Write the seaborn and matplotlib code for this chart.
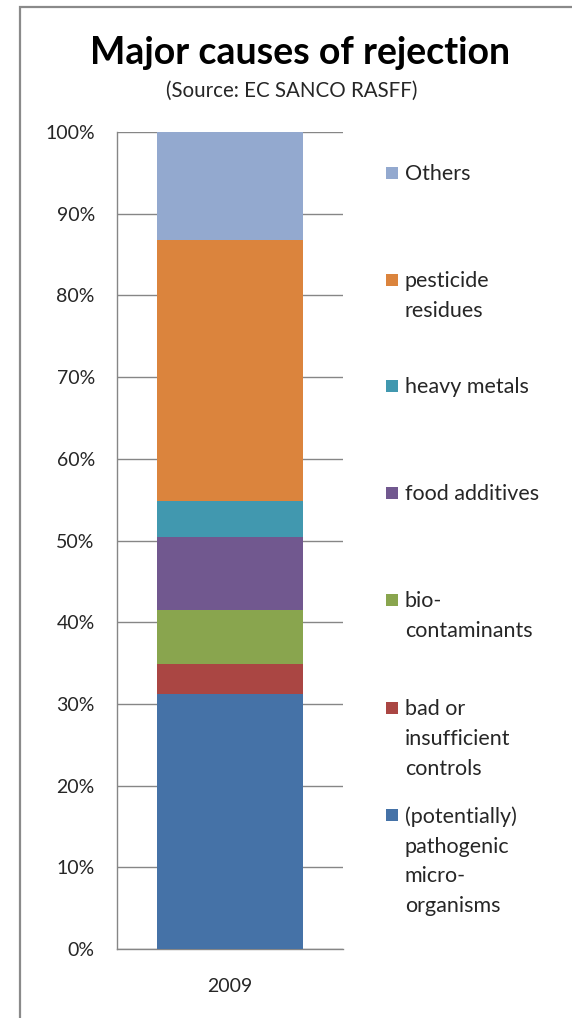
import matplotlib
matplotlib.use("Agg")
import matplotlib.pyplot as plt
from matplotlib.patches import Rectangle
import seaborn as sns
import pandas as pd

# ---- data ----
year = "2009"
categories = ["(potentially)\npathogenic\nmicro-\norganisms",
              "bad or\ninsufficient\ncontrols",
              "bio-\ncontaminants",
              "food additives",
              "heavy metals",
              "pesticide\nresidues",
              "Others"]
shares = [31.2, 3.7, 6.6, 8.9, 4.4, 32.0, 13.2]
colors = ["#4572A7", "#AA4643", "#89A54E", "#71588F", "#4198AF", "#DB843D", "#93A9CF"]
yticks = [0, 10, 20, 30, 40, 50, 60, 70, 80, 90, 100]
ytick_labels = [f"{v}%" for v in yticks]

sns.set_theme(style="white")
plt.rcParams["font.family"] = ["Lato", "DejaVu Sans"]

W, H = 572, 1018
fig = plt.figure(figsize=(W / 100, H / 100), dpi=100)
fig.patch.set_facecolor("white")

def fx(px):
    return px / W

def fy(py):
    return 1 - py / H

# outer frame (clipped at right / bottom edges)
fig.add_artist(Rectangle((fx(20), fy(1040)), fx(600), fy(7) - fy(1040),
                         transform=fig.transFigure, fill=False,
                         edgecolor="#8a8a8a", linewidth=1.6))

ax = fig.add_axes([fx(117), fy(949), fx(343) - fx(117), fy(132) - fy(949)])

# stacked bar: draw cumulative totals from top layer down
cum = []
s = 0
for v in shares:
    s += v
    cum.append(s)
for i in range(len(shares) - 1, -1, -1):
    df = pd.DataFrame({"year": [year], "value": [cum[i]]})
    sns.barplot(data=df, x="year", y="value", color=colors[i], width=0.646,
                saturation=1, ax=ax, zorder=3, edgecolor="none", linewidth=0)

ax.set_xlim(-0.5, 0.5)
ax.set_ylim(0, 100)
ax.set_yticks(yticks)
ax.set_yticklabels(ytick_labels)
ax.set_xlabel("")
ax.set_ylabel("")
ax.yaxis.grid(True, color="#868686", linewidth=1.0, zorder=0)
ax.set_axisbelow(True)
for side in ["top", "right"]:
    ax.spines[side].set_visible(False)
for side in ["left", "bottom"]:
    ax.spines[side].set_visible(True)
    ax.spines[side].set_color("#868686")
    ax.spines[side].set_linewidth(1.0)
ax.tick_params(axis="y", length=0, pad=16, labelsize=14, labelcolor="#262626")
ax.tick_params(axis="x", length=0, pad=21, labelsize=14, labelcolor="#262626")

# titles
fig.text(fx(300), fy(53), "Major causes of rejection", ha="center", va="center",
         fontsize=27, fontweight="bold", color="black")
fig.text(fx(292), fy(91), "(Source: EC SANCO RASFF)", ha="center", va="center",
         fontsize=14.8, color="#262626")

# legend (top to bottom: reverse stack order)
first_line_y = [173, 280, 386, 493, 600, 708, 815]
for k, yy in enumerate(first_line_y):
    i = len(categories) - 1 - k
    fig.add_artist(Rectangle((fx(386), fy(yy + 6)), fx(12), fy(yy - 6) - fy(yy + 6),
                             transform=fig.transFigure, facecolor=colors[i],
                             edgecolor="none"))
    fig.text(fx(405), fy(yy - 9), categories[i], ha="left", va="top",
             fontsize=15.5, color="#262626", linespacing=1.62)

fig.savefig("out.png", dpi=100, facecolor="white")
